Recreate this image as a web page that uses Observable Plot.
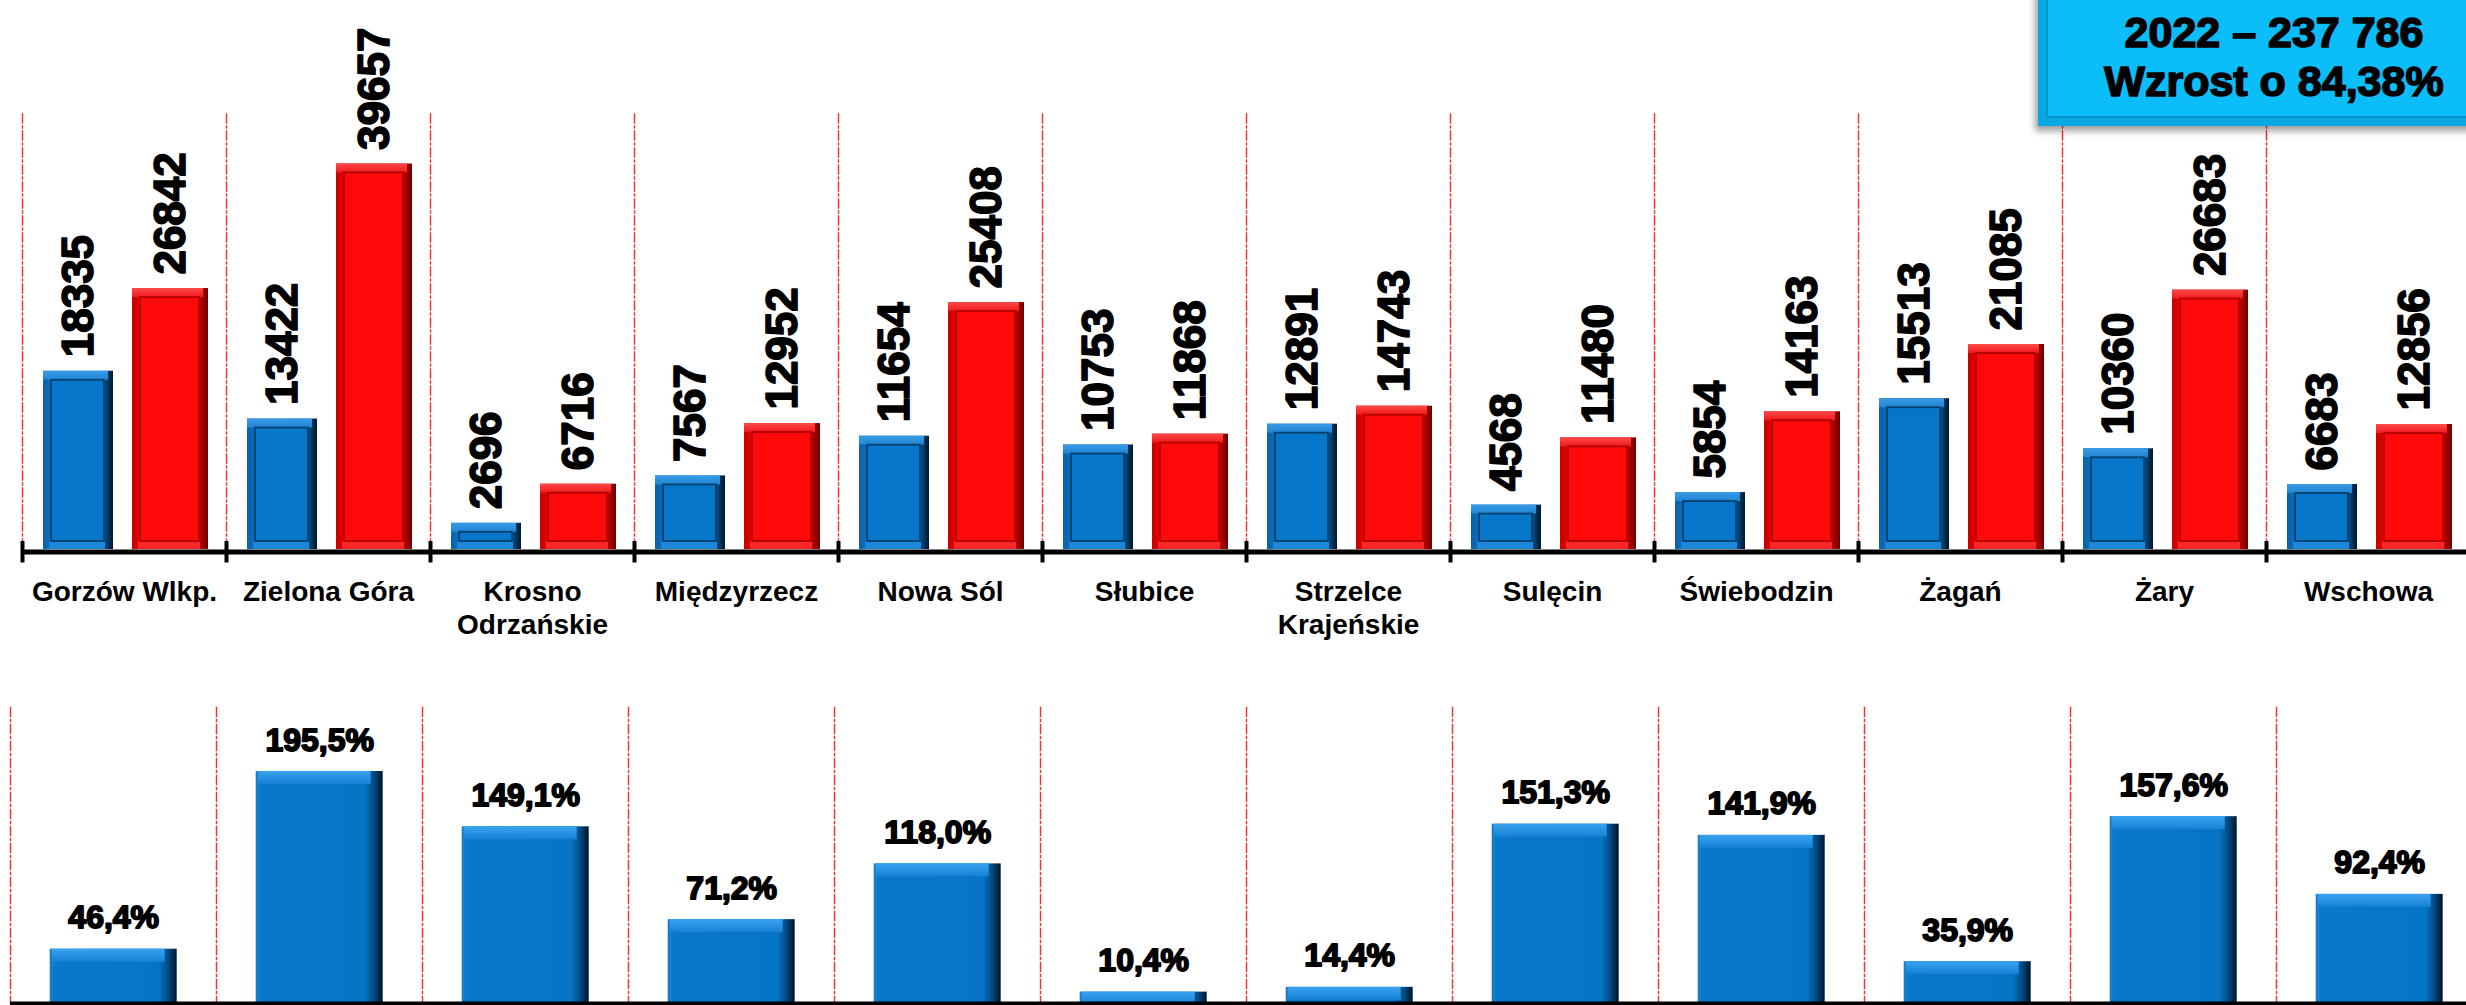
<!DOCTYPE html>
<html>
<head>
<meta charset="utf-8">
<script src="https://cdn.jsdelivr.net/npm/d3@7"></script>
<script src="https://cdn.jsdelivr.net/npm/@observablehq/plot@0.6"></script>
<style>
  html, body { margin: 0; padding: 0; background: #fff; overflow: hidden; }
  #page { position: relative; width: 2466px; height: 1005px; overflow: hidden; background: #fff; }
  .plotwrap { position: absolute; left: 0; width: 2520px; }
  #top { top: 0; }
  #bottom { top: 660px; }
  #box {
    position: absolute; left: 2038px; top: -30px; width: 470px; height: 156px;
    background: #0BBEFA;
    box-shadow: inset 8px -8px 0 #09A8E2, inset 10px -10px 0 #0793C8, -3px 5px 7px rgba(0,0,0,0.38);
  }
  #boxtext {
    position: absolute; left: 2024px; width: 500px; top: 8px; text-align: center;
    font: bold 43px "Liberation Sans", Arial, sans-serif; line-height: 49px; color: #000;
    -webkit-text-stroke: 1.6px #000; white-space: pre;
  }
</style>
</head>
<body>
<div id="page">
  <div id="top" class="plotwrap"></div>
  <div id="bottom" class="plotwrap"></div>
  <div id="box"></div>
  <div id="boxtext"></div>
</div>
<script>
// ---------------- data ----------------
const categories = ["Gorzów Wlkp.", "Zielona Góra", "Krosno Odrzańskie", "Międzyrzecz", "Nowa Sól", "Słubice",
  "Strzelce Krajeńskie", "Sulęcin", "Świebodzin", "Żagań", "Żary", "Wschowa"];
const categoryLabels = ["Gorzów Wlkp.", "Zielona Góra", "Krosno\nOdrzańskie", "Międzyrzecz", "Nowa Sól", "Słubice",
  "Strzelce\nKrajeńskie", "Sulęcin", "Świebodzin", "Żagań", "Żary", "Wschowa"];
const seriesNames = ["2021", "2022"];
const valuesPrev = [18335, 13422, 2696, 7567, 11654, 10753, 12891, 4568, 5854, 15513, 10360, 6683];
const values2022 = [26842, 39657, 6716, 12952, 25408, 11868, 14743, 11480, 14163, 21085, 26683, 12856];
const growthPct = [46.4, 195.5, 149.1, 71.2, 118.0, 10.4, 14.4, 151.3, 141.9, 35.9, 157.6, 92.4];
const boxLines = ["2022 – 237 786", "Wzrost o 84,38%"];

// ---------------- tables ----------------
const prevRows = categories.map((c, i) => ({cat: c, series: seriesNames[0], value: valuesPrev[i]}));
const curRows = categories.map((c, i) => ({cat: c, series: seriesNames[1], value: values2022[i]}));
const pctRows = categories.map((c, i) => ({cat: c, series: "wzrost", pct: growthPct[i]}));

const gridStyle = {stroke: "#FF2A2A", strokeWidth: 1.4, strokeDasharray: "9,3,2,3"};
const numFont = "'Liberation Sans', Arial, sans-serif";

function bevelBars(data, o) {
  const common = {fx: "cat", x: "series"};
  return [
    Plot.barY(data, {...common, y: "value", fill: `url(#${o.side})`, insetLeft: o.inset, insetRight: o.inset}),
    Plot.barY(data, {...common, y1: 0, y2: 0, insetTop: -8, insetLeft: o.inset + 6, insetRight: o.inset + 8, fill: o.bottom}),
    Plot.barY(data, {...common, y1: "value", y2: "value", insetBottom: -9, insetLeft: o.inset, insetRight: o.inset + 5, fill: `url(#${o.topGrad})`}),
    Plot.barY(data, {...common, y: "value", insetLeft: o.inset + 8, insetRight: o.inset + 9, insetTop: 9, insetBottom: 8,
      fill: o.face, stroke: o.line, strokeWidth: 1.8})
  ];
}

function addDefs(svg, grads) {
  const defs = d3.select(svg).insert("defs", ":first-child");
  for (const g of grads) {
    const lg = defs.append("linearGradient").attr("id", g.id)
      .attr("x1", g.x1 ?? 0).attr("y1", g.y1 ?? 0).attr("x2", g.x2 ?? 1).attr("y2", g.y2 ?? 0);
    for (const [off, col] of g.stops) lg.append("stop").attr("offset", off).attr("stop-color", col);
  }
}

// ---------------- top chart ----------------
const topChart = Plot.plot({
  width: 2480, height: 650,
  marginLeft: 20.5, marginRight: 8, marginTop: 113.5, marginBottom: 101,
  style: {maxWidth: "none", overflow: "visible", background: "transparent"},
  fx: {domain: categories, padding: 0, axis: null},
  x: {domain: seriesNames, padding: 0.21, axis: null},
  y: {domain: [0, 44800], axis: null},
  marks: [
    Plot.frame({anchor: "left", ...gridStyle}),
    ...bevelBars(prevRows, {side: "blueSide", topGrad: "blueTop", bottom: "#1C86D8", face: "#0676C8", line: "#05416F", inset: 1.5}),
    ...bevelBars(curRows, {side: "redSide", topGrad: "redTop", bottom: "#FF2626", face: "#FE0A0A", line: "#B00000", inset: -1.5}),
    Plot.ruleY([0], {stroke: "#000", strokeWidth: 5, dy: 2.5}),
    Plot.frame({anchor: "left", stroke: "#000", strokeWidth: 4, insetTop: 429, insetBottom: -11}),
    Plot.text([...prevRows, ...curRows], {fx: "cat", x: "series", y: "value", text: d => String(d.value),
      rotate: -90, textAnchor: "start", dy: -14, fontSize: 44, fontWeight: "bold", fontFamily: numFont,
      fill: "#000", stroke: "#000", strokeWidth: 1.6}),
    Plot.text(categories, {fx: d => d, text: (d, i) => categoryLabels[i], frameAnchor: "bottom", lineAnchor: "top",
      dy: 28, lineHeight: 1.18, fontSize: 28, fontWeight: "bold",
      fontFamily: "'Liberation Sans Narrow', 'Arial Narrow', 'Liberation Sans', sans-serif", fill: "#000"})
  ]
});
addDefs(topChart, [
  {id: "blueSide", stops: [[0, "#0A62AB"], [0.1, "#0B6CBB"], [0.84, "#0766B2"], [0.93, "#04365E"], [1, "#021727"]]},
  {id: "redSide", stops: [[0, "#C40000"], [0.1, "#E80000"], [0.84, "#E40000"], [0.93, "#A00000"], [1, "#6E0000"]]},
  {id: "blueTop", x2: 0, y2: 1, stops: [[0, "#3A9CE8"], [1, "#1F84D2"]]},
  {id: "redTop", x2: 0, y2: 1, stops: [[0, "#FF4A4A"], [1, "#F01818"]]}
]);
document.getElementById("top").append(topChart);

// ---------------- bottom chart ----------------
const bottomChart = Plot.plot({
  width: 2490, height: 360,
  marginLeft: 9.3, marginRight: 6.3, marginTop: 47, marginBottom: 16,
  style: {maxWidth: "none", overflow: "visible", background: "transparent"},
  fx: {domain: categories, padding: 0, axis: null},
  x: {domain: ["wzrost"], padding: 0.234, axis: null},
  y: {domain: [0, 249.2], axis: null},
  marks: [
    Plot.frame({anchor: "left", ...gridStyle}),
    Plot.barY(pctRows, {fx: "cat", x: "series", y: "pct", fill: "url(#pctSide)"}),
    Plot.barY(pctRows, {fx: "cat", x: "series", y1: "pct", y2: "pct", insetBottom: -13, insetLeft: 2, insetRight: 12, fill: "url(#pctTop)"}),
    Plot.ruleY([0], {stroke: "#000", strokeWidth: 6, dy: 0}),
    Plot.text(pctRows, {fx: "cat", x: "series", y: "pct", text: d => d.pct.toFixed(1).replace(".", ",") + "%",
      lineAnchor: "bottom", dy: -21, fontSize: 32, fontWeight: "bold", fontFamily: numFont,
      fill: "#000", stroke: "#000", strokeWidth: 1.8})
  ]
});
addDefs(bottomChart, [
  {id: "pctSide", stops: [[0, "#1A7FCC"], [0.05, "#0A78C9"], [0.86, "#0675C6"], [0.94, "#04457A"], [1, "#011629"]]},
  {id: "pctTop", x2: 0, y2: 1, stops: [[0, "#3AA2EE"], [0.5, "#2893E3"], [1, "#1581D3"]]}
]);
document.getElementById("bottom").append(bottomChart);

// ---------------- annotation box ----------------
document.getElementById("boxtext").textContent = boxLines.join("\n");
</script>
</body>
</html>
